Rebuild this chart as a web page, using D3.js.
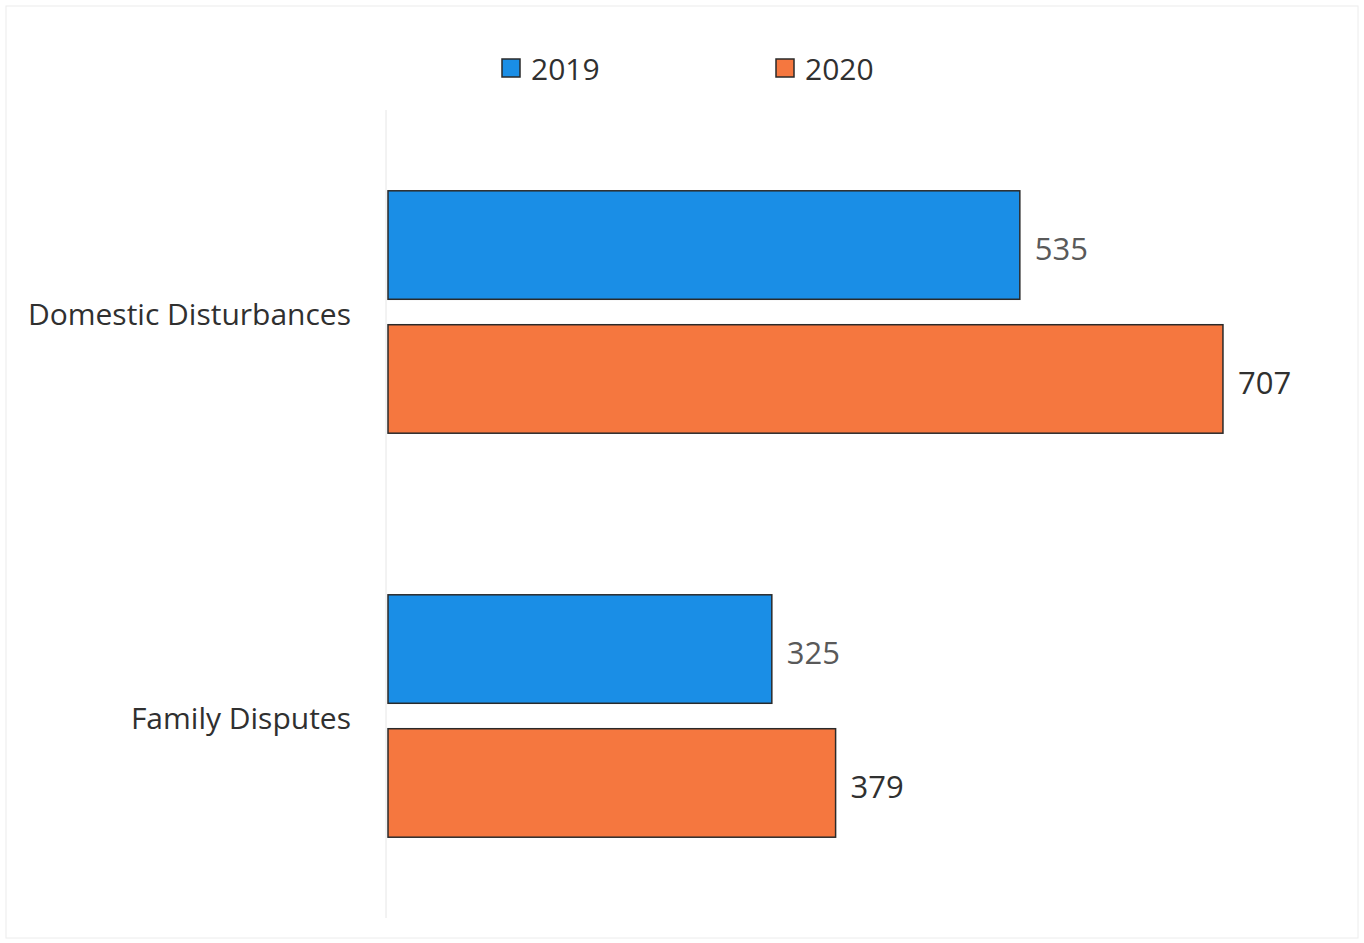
<!DOCTYPE html>
<html>
<head>
<meta charset="utf-8">
<script src="https://cdn.jsdelivr.net/npm/d3@7/dist/d3.min.js"></script>
<style>
  html, body { margin: 0; padding: 0; background: #fff; }
  svg { display: block; font-family: "Open Sans", "Noto Sans", sans-serif; }
</style>
</head>
<body>
<svg id="chart" width="1364" height="943"></svg>
<script>
const categories = ["Domestic Disturbances", "Family Disputes"];
const seriesNames = ["2019", "2020"];
const values2019 = [535, 325];
const values2020 = [707, 379];
const colors = ["#1a8ee6", "#f5773f"];
const labelColors = ["#595959", "#303030"];

const seriesValues = [values2019, values2020];
const data = categories.map((c, i) => ({
  category: c,
  values: seriesNames.map((s, j) => ({ series: s, value: seriesValues[j][i], idx: j }))
}));

const svg = d3.select("#chart");

// faint outer frame
svg.append("rect")
  .attr("x", 6).attr("y", 6).attr("width", 1352).attr("height", 932)
  .attr("fill", "none").attr("stroke", "#ececec").attr("stroke-width", 1);

const x = d3.scaleLinear().domain([0, 800]).range([388, 388 + 800 * 1.181]);
const y = d3.scaleBand().domain(categories).range([110, 918]).paddingInner(0.4).paddingOuter(0.2);
const ySub = d3.scaleBand().domain(seriesNames).range([0, y.bandwidth()]).paddingInner(0.19);

// category axis line
svg.append("line")
  .attr("x1", x(0) - 2).attr("x2", x(0) - 2)
  .attr("y1", 110).attr("y2", 918)
  .attr("stroke", "#e6e6e6").attr("stroke-width", 1);

const groups = svg.selectAll("g.cat").data(data).join("g")
  .attr("class", "cat")
  .attr("transform", d => `translate(0,${y(d.category)})`);

groups.selectAll("rect").data(d => d.values).join("rect")
  .attr("x", x(0))
  .attr("y", d => ySub(d.series))
  .attr("width", d => x(d.value) - x(0))
  .attr("height", ySub.bandwidth())
  .attr("fill", d => colors[d.idx])
  .attr("stroke", "#2a2a2a")
  .attr("stroke-width", 1.5);

groups.selectAll("text.val").data(d => d.values).join("text")
  .attr("class", "val")
  .attr("x", d => x(d.value) + 15)
  .attr("y", d => ySub(d.series) + ySub.bandwidth() / 2 + 4)
  .attr("dy", "0.36em")
  .attr("font-size", 31)
  .attr("fill", d => labelColors[d.idx])
  .text(d => d.value);

// category labels
groups.append("text")
  .attr("x", 351)
  .attr("y", y.bandwidth() / 2 + 2)
  .attr("dy", "0.36em")
  .attr("text-anchor", "end")
  .attr("font-size", 30)
  .attr("fill", "#303030")
  .text(d => d.category);

// legend
const legendX = [502, 776];
const legend = svg.selectAll("g.leg").data(seriesNames).join("g")
  .attr("class", "leg")
  .attr("transform", (d, i) => `translate(${legendX[i]},59)`);
legend.append("rect")
  .attr("width", 18).attr("height", 18)
  .attr("fill", (d, i) => colors[i])
  .attr("stroke", "#2a2a2a").attr("stroke-width", 1.5);
legend.append("text")
  .attr("x", 29).attr("y", 10)
  .attr("dy", "0.36em")
  .attr("font-size", 30)
  .attr("fill", "#303030")
  .text(d => d);
</script>
</body>
</html>
